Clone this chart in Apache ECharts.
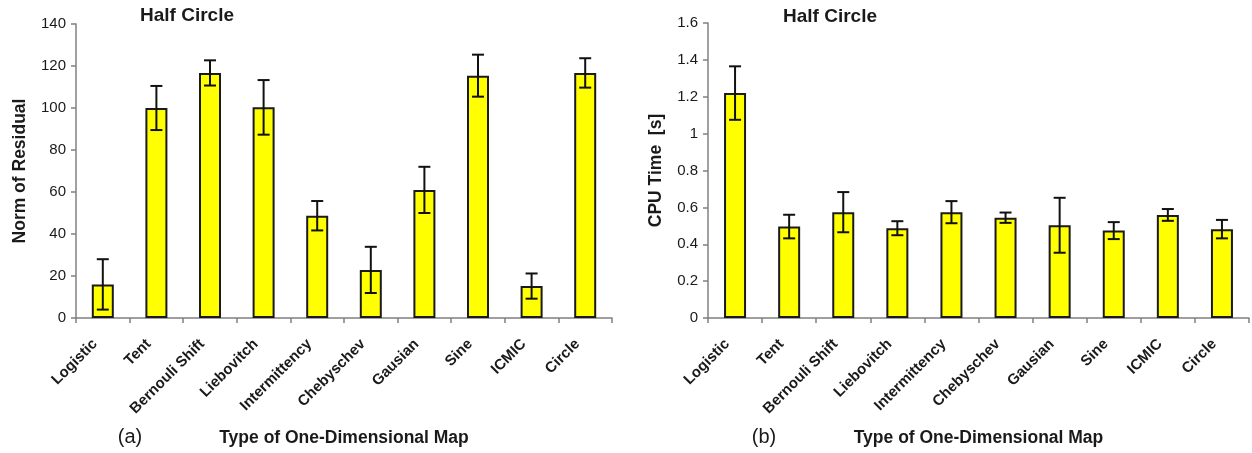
<!DOCTYPE html>
<html>
<head>
<meta charset="utf-8">
<script src="https://cdn.jsdelivr.net/npm/echarts@6/dist/echarts.min.js"></script>
<style>
html,body{margin:0;padding:0;background:#fff;}
#chart{width:1252px;height:453px;}
</style>
</head>
<body>
<div id="chart"></div>
<script>
// ---- data ----
const categories = ['Logistic','Tent','Bernouli Shift','Liebovitch','Intermittency','Chebyschev','Gausian','Sine','ICMIC','Circle'];
const normValues = [16, 100, 116.7, 100.3, 48.7, 22.9, 61, 115.4, 15.2, 116.7];
const normErrors = [12, 10.5, 6, 13, 7, 11, 11, 10, 6, 7];
const cpuValues = [1.22, 0.496, 0.574, 0.487, 0.574, 0.544, 0.503, 0.474, 0.559, 0.482];
const cpuErrors = [0.145, 0.064, 0.109, 0.038, 0.06, 0.028, 0.149, 0.046, 0.032, 0.05];
const normTicks = {min: 0, max: 140, interval: 20};
const cpuTicks = {min: 0, max: 1.6, interval: 0.2};
const chartTitle = 'Half Circle';
const xName = 'Type of One-Dimensional Map';
const yNames = ['Norm of Residual', 'CPU Time  [s]'];
const panelLabels = ['(a)', '(b)'];

const FONT = 'Arial, "Liberation Sans", sans-serif';
const AXIS_COLOR = '#808080';
const TEXT_COLOR = '#1a1a1a';

function errorSeries(values, errors, axisIdx) {
  return {
    type: 'custom',
    xAxisIndex: axisIdx,
    yAxisIndex: axisIdx,
    z: 5,
    data: values.map((v, i) => [i, v - errors[i], v + errors[i]]),
    renderItem: function (params, api) {
      const i = api.value(0);
      const lo = api.coord([i, api.value(1)]);
      const hi = api.coord([i, api.value(2)]);
      const hw = 6;
      const style = {stroke: '#111', lineWidth: 2};
      return {
        type: 'group',
        children: [
          {type: 'line', shape: {x1: lo[0], y1: lo[1], x2: hi[0], y2: hi[1]}, style: style},
          {type: 'line', shape: {x1: hi[0] - hw, y1: hi[1], x2: hi[0] + hw, y2: hi[1]}, style: style},
          {type: 'line', shape: {x1: lo[0] - hw, y1: lo[1], x2: lo[0] + hw, y2: lo[1]}, style: style}
        ]
      };
    }
  };
}

function xAxisCfg(idx) {
  return {
    type: 'category',
    gridIndex: idx,
    data: categories,
    boundaryGap: true,
    axisLine: {show: true, lineStyle: {color: AXIS_COLOR, width: 1.5}},
    axisTick: {show: true, interval: 0, length: 5, lineStyle: {color: AXIS_COLOR, width: 1.5}},
    axisLabel: {interval: 0, rotate: 45, margin: 16, padding: [0, 11, 0, 0], fontFamily: FONT, fontSize: 15, fontWeight: 'bold', color: TEXT_COLOR},
    name: xName,
    nameLocation: 'middle',
    nameGap: 111,
    nameTextStyle: {fontFamily: FONT, fontSize: 17.5, fontWeight: 'bold', color: TEXT_COLOR},
    splitLine: {show: false}
  };
}

function yAxisCfg(idx, ticks, name, gap) {
  return {
    type: 'value',
    gridIndex: idx,
    min: ticks.min, max: ticks.max, interval: ticks.interval,
    axisLine: {show: true, lineStyle: {color: AXIS_COLOR, width: 1.5}},
    axisTick: {show: true, length: 5, lineStyle: {color: AXIS_COLOR, width: 1.5}},
    axisLabel: {margin: 10, fontFamily: FONT, fontSize: 15, color: TEXT_COLOR},
    splitLine: {show: false},
    name: name,
    nameLocation: 'middle',
    nameGap: gap,
    nameTextStyle: {fontFamily: FONT, fontSize: 17.5, fontWeight: 'bold', color: TEXT_COLOR}
  };
}

function barSeries(values, idx) {
  return {
    type: 'bar',
    xAxisIndex: idx,
    yAxisIndex: idx,
    data: values,
    barWidth: 22,
    itemStyle: {color: '#ffff00', borderColor: '#1a1a1a', borderWidth: 2},
    z: 3
  };
}

const chart = echarts.init(document.getElementById('chart'), null, {renderer: 'canvas'});
chart.setOption({
  backgroundColor: '#ffffff',
  animation: false,
  grid: [
    {left: 76, right: 640, top: 24, bottom: 135},
    {left: 708, right: 3, top: 23, bottom: 135}
  ],
  xAxis: [xAxisCfg(0), xAxisCfg(1)],
  yAxis: [
    yAxisCfg(0, normTicks, yNames[0], 47),
    yAxisCfg(1, cpuTicks, yNames[1], 43)
  ],
  graphic: [
    {type: 'text', x: 187, y: 16, style: {text: chartTitle, font: 'bold 19px ' + FONT, fill: TEXT_COLOR, textAlign: 'center', textVerticalAlign: 'middle'}},
    {type: 'text', x: 830, y: 17, style: {text: chartTitle, font: 'bold 19px ' + FONT, fill: TEXT_COLOR, textAlign: 'center', textVerticalAlign: 'middle'}},
    {type: 'text', x: 130, y: 437, style: {text: panelLabels[0], font: '20px ' + FONT, fill: TEXT_COLOR, textAlign: 'center', textVerticalAlign: 'middle'}},
    {type: 'text', x: 764, y: 437, style: {text: panelLabels[1], font: '20px ' + FONT, fill: TEXT_COLOR, textAlign: 'center', textVerticalAlign: 'middle'}}
  ],
  series: [
    barSeries(normValues, 0),
    errorSeries(normValues, normErrors, 0),
    barSeries(cpuValues, 1),
    errorSeries(cpuValues, cpuErrors, 1)
  ]
});
</script>
</body>
</html>
